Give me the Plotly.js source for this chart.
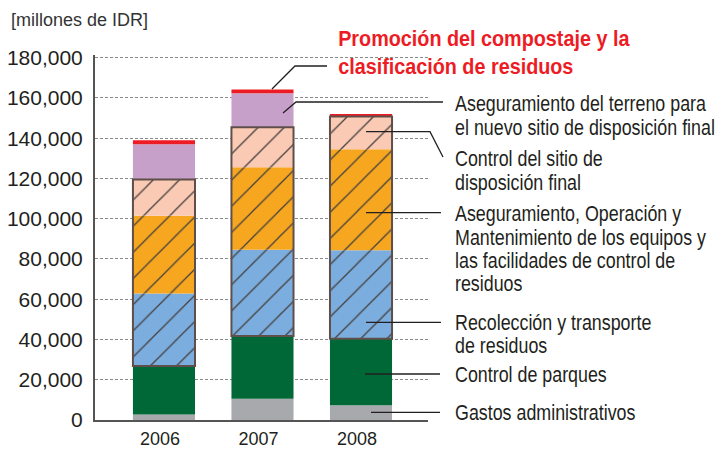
<!DOCTYPE html>
<html>
<head>
<meta charset="utf-8">
<script src="https://cdn.plot.ly/plotly-3.0.1.min.js"></script>
<style>html,body{margin:0;padding:0;background:#fff;}#chart{width:716px;height:449px;}</style>
</head>
<body>
<div id="chart"></div>
<script>
// ---- data ----
const years = ['2006', '2007', '2008'];
const gastos = [2700, 10600, 7300];          // Gastos administrativos
const parques = [24100, 31100, 33100];       // Control de parques
const recoleccion = [36000, 42900, 43900];   // Recolección y transporte de residuos
const equipos = [38700, 40900, 50200];       // Aseguramiento, Operación y Mantenimiento...
const controlSitio = [17900, 19900, 16200];  // Control del sitio de disposición final
const terreno = [17600, 16900, 0];           // Aseguramiento del terreno...
const compostaje = [2000, 1900, 1300];       // Promoción del compostaje...
const yTicks = [0, 20000, 40000, 60000, 80000, 100000, 120000, 140000, 160000, 180000];
const unitLabel = '[millones de IDR]';
const titleLines = ['Promoción del compostaje y la', 'clasificación de residuos'];
const labelLines = {
  terreno: ['Aseguramiento del terreno para', 'el nuevo sitio de disposición final'],
  controlSitio: ['Control del sitio de', 'disposición final'],
  equipos: ['Aseguramiento, Operación y', 'Mantenimiento de los equipos y', 'las facilidades de control de', 'residuos'],
  recoleccion: ['Recolección y transporte', 'de residuos'],
  parques: ['Control de parques'],
  gastos: ['Gastos administrativos']
};

// ---- build stacked series with explicit bases ----
const series = [
  {v: gastos, color: '#a7a9ac', hatch: false},
  {v: parques, color: '#006837', hatch: false},
  {v: recoleccion, color: '#7badde', hatch: true},
  {v: equipos, color: '#f6a71f', hatch: true},
  {v: controlSitio, color: '#fbcab5', hatch: true},
  {v: terreno, color: '#c6a0c9', hatch: false},
  {v: compostaje, color: '#ed1c24', hatch: false}
];
const cum = years.map(() => 0);
const traces = [];
const BW = 0.63;
series.forEach(s => {
  const base = cum.slice();
  s.v.forEach((val, i) => { cum[i] += val; });
  const t = {
    type: 'bar', x: years, y: s.v, base: base, width: BW,
    marker: {color: s.color, line: {width: 0}},
    hoverinfo: 'skip', showlegend: false
  };
  if (s.hatch) {
    t.marker.pattern = {shape: '/', fgcolor: '#45403e', bgcolor: s.color, fgopacity: 1, size: 18.5, solidity: 0.07};
  }
  traces.push(t);
});
// outline around hatched group
const hatchBase = years.map((_, i) => gastos[i] + parques[i]);
const hatchH = years.map((_, i) => recoleccion[i] + equipos[i] + controlSitio[i]);
traces.push({
  type: 'bar', x: years, y: hatchH, base: hatchBase, width: BW,
  marker: {color: 'rgba(0,0,0,0)', line: {color: '#5e4f4a', width: 2}},
  hoverinfo: 'skip', showlegend: false
});

// ---- layout helpers (pixel -> paper) ----
const L = 95, R = 288, T = 55, B = 29, W = 716, H = 449;
const PW = W - L - R, PH = H - T - B;
const X = px => (px - L) / PW;
const Y = py => (H - B - py) / PH;

const sans = 'Liberation Sans, Arial, Helvetica, sans-serif';
const txtFont = {family: sans, size: 21.5, color: '#231f20'};
const annotations = [];
const squeeze = [];
function addLines(lines, x, ys, font, sx) {
  lines.forEach((t, k) => {
    annotations.push({
      xref: 'paper', yref: 'paper', x: X(x), y: Y(ys[k]), xanchor: 'left', yanchor: 'middle',
      text: t, showarrow: false, font: font
    });
    squeeze.push(sx);
  });
}
addLines(titleLines, 336, [39, 67], {family: sans, size: 22, color: '#ed1c24', weight: 'bold'}, 0.9);
addLines(labelLines.terreno, 453, [104, 128], txtFont, 0.83);
addLines(labelLines.controlSitio, 453, [159, 183], txtFont, 0.83);
addLines(labelLines.equipos, 453, [214, 238, 261, 284], txtFont, 0.83);
addLines(labelLines.recoleccion, 453, [323, 346], txtFont, 0.83);
addLines(labelLines.parques, 453, [375], txtFont, 0.83);
addLines(labelLines.gastos, 453, [413], txtFont, 0.83);
annotations.push({
  xref: 'paper', yref: 'paper', x: X(9), y: Y(20), xanchor: 'left', yanchor: 'middle',
  text: unitLabel, showarrow: false,
  font: {family: sans, size: 18, color: '#333'}
});
squeeze.push(1);

function path(pts) {
  return pts.map((p, i) => (i ? 'L' : 'M') + X(p[0]).toFixed(4) + ',' + Y(p[1]).toFixed(4)).join(' ');
}
const leaders = [
  [[272, 89], [295, 66], [327, 66]],
  [[283, 113], [296, 102], [443, 102]],
  [[366, 131.7], [430, 131.7], [443, 157]],
  [[366, 212.7], [441, 212.7]],
  [[366, 322.3], [441, 322.3]],
  [[365, 374], [440, 374]],
  [[371, 412.3], [440, 412.3]]
];
const shapes = leaders.map(p => ({
  type: 'path', xref: 'paper', yref: 'paper', path: path(p),
  line: {color: '#231f20', width: 1.3}, layer: 'above'
}));

const layout = {
  width: W, height: H,
  margin: {l: L, r: R, t: T, b: B, pad: 0},
  paper_bgcolor: '#fff', plot_bgcolor: '#fff',
  barmode: 'overlay',
  showlegend: false,
  xaxis: {
    type: 'category', range: [-0.70, 2.68],
    showline: true, linecolor: '#555', linewidth: 2,
    showgrid: false, zeroline: false, ticks: '',
    tickfont: {family: sans, size: 18, color: '#231f20'},
    ticklabelstandoff: 1, ticklabelshift: -4
  },
  yaxis: {
    range: [0, 181300], tickvals: yTicks, tickformat: ',d',
    showline: true, linecolor: '#555', linewidth: 2,
    showgrid: true, gridcolor: '#8a8a8a', gridwidth: 1, griddash: '3px,2px',
    zeroline: false, ticks: '',
    tickfont: {family: sans, size: 21, color: '#231f20'},
    ticklabelstandoff: 6
  },
  annotations: annotations,
  shapes: shapes
};
Plotly.newPlot('chart', traces, layout, {displayModeBar: false, staticPlot: true}).then(gd => {
  gd.querySelectorAll('g.annotation').forEach(g => {
    const i = +g.getAttribute('data-index');
    const sx = squeeze[i];
    if (sx && sx !== 1) {
      const t = g.querySelector('text.annotation-text');
      if (t) {
        t.style.transformBox = 'fill-box';
        t.style.transformOrigin = 'left center';
        t.style.transform = 'scaleX(' + sx + ')';
      }
    }
  });
});
</script>
</body>
</html>
